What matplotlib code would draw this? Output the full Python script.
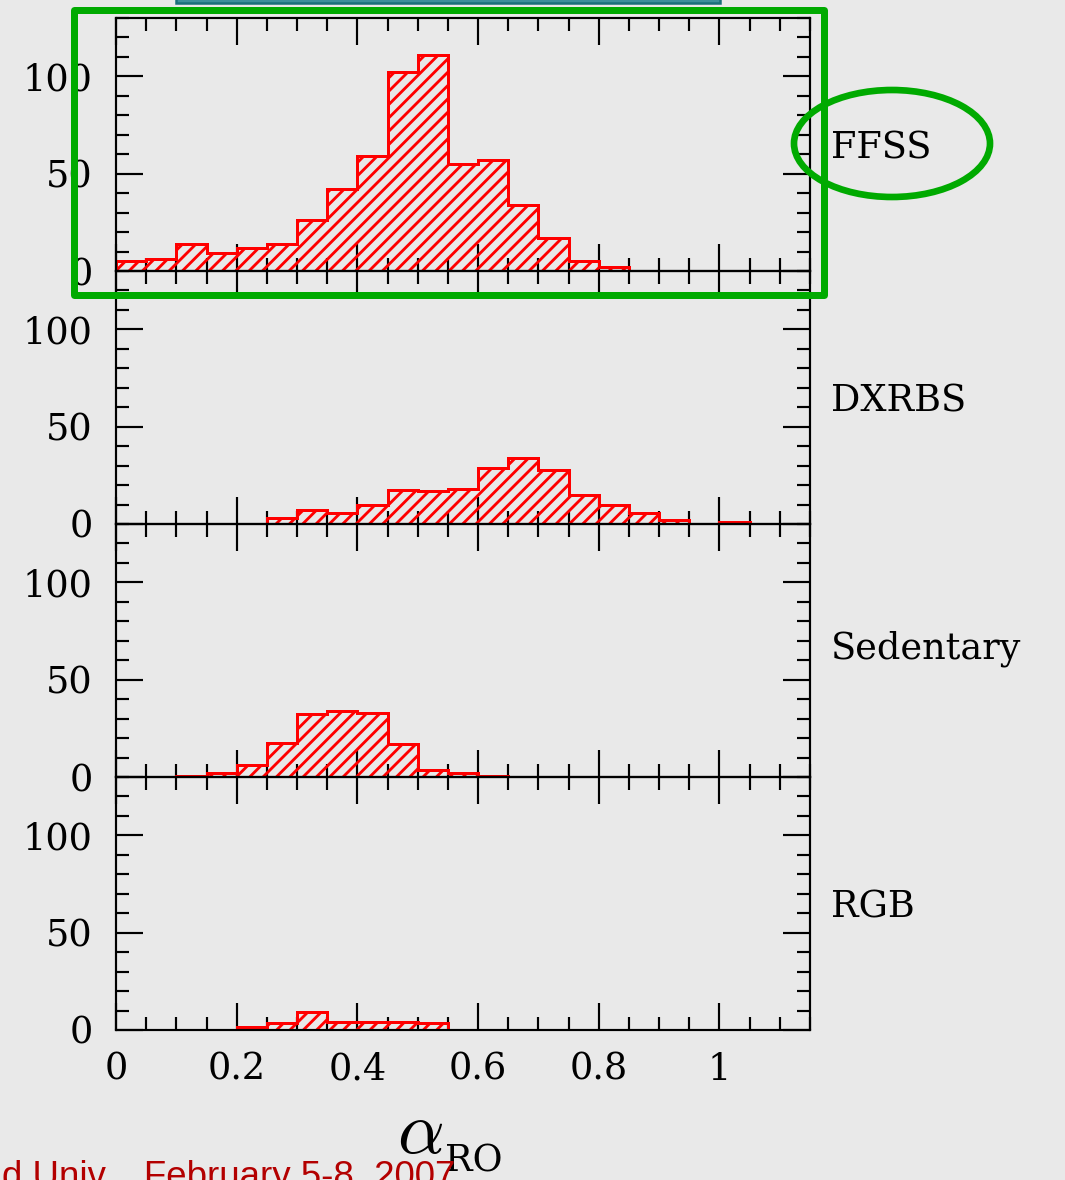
import numpy as np
import matplotlib
matplotlib.use("Agg")
import matplotlib.pyplot as plt
from matplotlib.patches import Rectangle, Ellipse
import matplotlib.transforms as mtransforms
from matplotlib.ticker import MultipleLocator

# ---------------- data ----------------
panel_names = ["FFSS", "DXRBS", "Sedentary", "RGB"]
bin_width = 0.05
ffss_start = 0.0
ffss_counts = [5, 6, 14, 9, 12, 14, 26, 42, 59, 102, 111, 55, 57, 34, 17, 5, 2]
dxrbs_start = 0.25
dxrbs_counts = [3, 7, 5.5, 10, 17.4, 17, 18, 29, 34, 28, 15, 10, 5.7, 2, 0, 1]
sed_start = 0.1
sed_counts = [0.3, 2, 6, 17.6, 32.6, 33.7, 32.8, 16.9, 3.8, 2, 0.7]
rgb_start = 0.2
rgb_counts = [1.4, 3.6, 9, 4, 4, 4, 3.6]
x_ticks = [0, 0.2, 0.4, 0.6, 0.8, 1]
x_ticklabels = ["0", "0.2", "0.4", "0.6", "0.8", "1"]
y_ticks = [0, 50, 100]
y_ticklabels = ["0", "50", "100"]
footer = "d Univ.,  February 5-8, 2007"

# ---------------- style ----------------
W, H, DPI = 1065, 1180, 120
plt.rcParams["hatch.linewidth"] = 1.7
plt.rcParams["mathtext.fontset"] = "cm"
SERIF = "DejaVu Serif"
BG = "#e9e9e9"

fig = plt.figure(figsize=(W / DPI, H / DPI), dpi=DPI, facecolor=BG)

def fx(px):
    return px / W

def fy(py):
    return 1 - py / H

left, right = 116, 810
tops = [18, 271, 524, 777]
ph = 253
series = [
    (ffss_start, ffss_counts),
    (dxrbs_start, dxrbs_counts),
    (sed_start, sed_counts),
    (rgb_start, rgb_counts),
]
label_y = [63, 63, 66, 63]

for i, (name, (start, counts)) in enumerate(zip(panel_names, series)):
    top = tops[i]
    ax = fig.add_axes([fx(left), fy(top + ph), fx(right - left), ph / H])
    ax.set_facecolor("none")
    counts = np.asarray(counts, dtype=float)
    edges = start + bin_width * np.arange(len(counts) + 1)
    ax.stairs(counts, edges, baseline=0, fill=True, facecolor="none",
              edgecolor="red", hatch="///", linewidth=1.8, zorder=2)
    ax.set_xlim(0, 1.15)
    ax.set_ylim(0, 130)
    ax.xaxis.set_major_locator(MultipleLocator(0.2))
    ax.xaxis.set_minor_locator(MultipleLocator(0.05))
    ax.set_yticks(y_ticks)
    ax.yaxis.set_minor_locator(MultipleLocator(10))
    ax.tick_params(which="both", direction="in", top=True, bottom=True,
                   left=True, right=True, width=1.3, color="black")
    ax.tick_params(which="major", length=16)
    ax.tick_params(which="minor", length=8)
    ax.tick_params(axis="y", which="major", pad=14)
    ax.tick_params(axis="x", which="major", pad=13)
    ax.set_yticklabels(y_ticklabels, fontsize=22, family=SERIF)
    ax.set_xticks(x_ticks)
    if i == 3:
        ax.set_xticklabels(x_ticklabels, fontsize=22, family=SERIF)
    else:
        ax.set_xticklabels([])
    for sp in ax.spines.values():
        sp.set_linewidth(1.3)
        sp.set_zorder(3)
    trans = mtransforms.blended_transform_factory(ax.transAxes, ax.transData)
    ax.text(1.03, label_y[i], name, transform=trans, ha="left", va="center",
            fontsize=22, family=SERIF, color="black")

# axis label alpha_RO
fig.text(fx(420), fy(1132), r"$\alpha$", fontsize=44, ha="center", va="center")
fig.text(fx(445), fy(1162), "RO", fontsize=22, family=SERIF, ha="left", va="center")

# green highlight rectangle and ellipse
green = "#00aa00"
fig.add_artist(Rectangle((fx(73.5), fy(295)), fx(824) - fx(73.5), fy(9.7) - fy(295),
                         transform=fig.transFigure, fill=False, edgecolor=green,
                         linewidth=4.2, zorder=10, joinstyle="round"))
fig.add_artist(Ellipse((fx(892), fy(143.5)), fx(196), 107 / H,
                       transform=fig.transFigure, fill=False, edgecolor=green,
                       linewidth=4.0, zorder=10))

# partial teal box at the very top
fig.add_artist(Rectangle((fx(176), fy(2.5)), fx(720) - fx(176), 40 / H,
                         transform=fig.transFigure, facecolor="#3d8f9b",
                         edgecolor="#1a6f7a", linewidth=1.5, zorder=10))

# footer text (cut off at the bottom edge as in the reference)
fig.text(fx(455), fy(1187), footer, fontsize=22, family="Liberation Sans",
         color="#b30000", ha="right", va="baseline")

fig.savefig("out.png", dpi=DPI, facecolor=BG)
